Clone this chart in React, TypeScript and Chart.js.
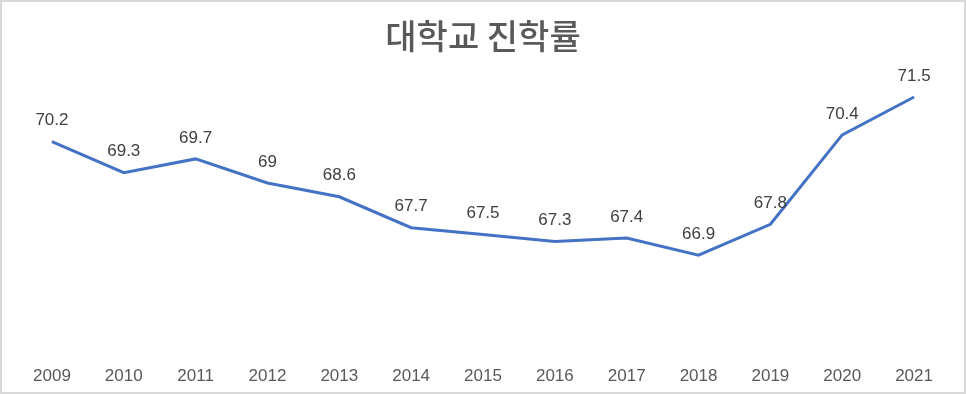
import React, { useEffect, useRef } from "react";
import { Chart, registerables } from "chart.js";

Chart.register(...registerables);

const categories = ["2009", "2010", "2011", "2012", "2013", "2014", "2015", "2016", "2017", "2018", "2019", "2020", "2021"];
const rates = [70.2, 69.3, 69.7, 69, 68.6, 67.7, 67.5, 67.3, 67.4, 66.9, 67.8, 70.4, 71.5];
const chartTitle = "대학교 진학률";

const valueLabels = {
  id: "valueLabels",
  afterDatasetsDraw(chart: any) {
    const ctx = chart.ctx;
    const meta = chart.getDatasetMeta(0);
    const data = chart.data.datasets[0].data;
    ctx.save();
    ctx.font = "17px 'Liberation Sans', Arial, sans-serif";
    ctx.fillStyle = "#404040";
    ctx.textAlign = "center";
    ctx.textBaseline = "middle";
    meta.data.forEach((pt: any, i: number) => {
      ctx.fillText(String(data[i]), pt.x, pt.y - 21);
    });
    ctx.restore();
  },
};

export default function App() {
  const ref = useRef<HTMLCanvasElement | null>(null);
  useEffect(() => {
    document.body.style.margin = "0";
    const chart = new Chart(ref.current!, {
      type: "line",
      data: {
        labels: categories,
        datasets: [
          {
            data: rates,
            borderColor: "#4472C4",
            borderWidth: 3,
            pointRadius: 0,
            tension: 0,
            fill: false,
          },
        ],
      },
      options: {
        animation: false,
        responsive: false,
        maintainAspectRatio: false,
        layout: { padding: { left: 14, right: 14, top: 0, bottom: 7 } },
        plugins: {
          legend: { display: false },
          tooltip: { enabled: false },
          title: {
            display: true,
            text: chartTitle,
            color: "#595959",
            font: { family: "'Noto Sans CJK KR', sans-serif", size: 34, weight: "500", lineHeight: 1.2 },
            padding: { top: 14, bottom: 23 },
          },
        },
        scales: {
          x: {
            offset: true,
            grid: { display: false, drawTicks: false },
            border: { display: false },
            afterFit: (scale: any) => {
              scale.height = 30;
            },
            ticks: {
              color: "#595959",
              padding: 11,
              font: { family: "'Liberation Sans', Arial, sans-serif", size: 17 },
              maxRotation: 0,
            },
          },
          y: { display: false, min: 64, max: 72 },
        },
      },
      plugins: [valueLabels],
    });
    return () => chart.destroy();
  }, []);
  return (
    <div
      style={{
        position: "fixed",
        left: 0,
        top: 0,
        width: 966,
        height: 394,
        boxSizing: "border-box",
        border: "2px solid #d9d9d9",
        background: "#ffffff",
      }}
    >
      <canvas ref={ref} width={962} height={390} style={{ display: "block", width: 962, height: 390 }} />
    </div>
  );
}
